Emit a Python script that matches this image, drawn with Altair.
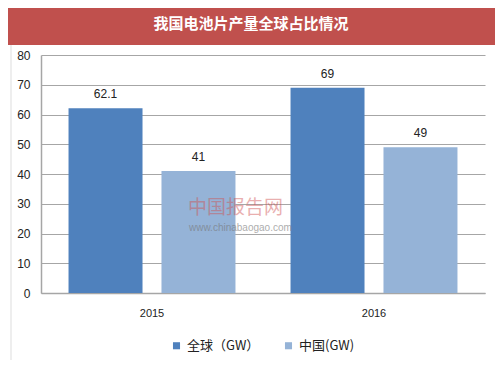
import altair as alt
import pandas as pd

years = ["2015", "2016"]
series = ["全球（GW）", "中国(GW)"]
global_vals = [62.1, 69]
china_vals = [41, 49]
colors = ["#4F81BD", "#95B3D7"]
y_ticks = [0, 10, 20, 30, 40, 50, 60, 70, 80]
title_text = "我国电池片产量全球占比情况"
wm_main = "中国报告网"
wm_url = "www.chinabaogao.com"

rows = []
for i, y in enumerate(years):
    rows.append({"year": y, "series": series[0], "value": global_vals[i], "label": f"{global_vals[i]:g}"})
    rows.append({"year": y, "series": series[1], "value": china_vals[i], "label": f"{china_vals[i]:g}"})
df = pd.DataFrame(rows)
one = pd.DataFrame([{"t": title_text, "w": wm_main, "u": wm_url}])

xenc = alt.X("year:N", sort=years, title=None,
             scale=alt.Scale(paddingInner=0.248, paddingOuter=0.124),
             axis=alt.Axis(labelAngle=0, ticks=False, domainColor="#A6A6A6", domainWidth=1.5,
                           labelFont="Liberation Sans", labelFontSize=11, labelColor="#222",
                           labelPadding=14))
xoff = alt.XOffset("series:N", sort=series, scale=alt.Scale(paddingInner=0.204, paddingOuter=0))
yenc = alt.Y("value:Q", title=None,
             scale=alt.Scale(domain=[0, 80]),
             axis=alt.Axis(values=y_ticks, ticks=False, domainColor="#A6A6A6",
                           gridColor="#A6A6A6", gridWidth=1.2, domainWidth=1.5,
                           labelOverlap=False,
                           labelFont="Liberation Sans", labelFontSize=12, labelColor="#222",
                           labelPadding=11))

bars = alt.Chart(df).mark_bar().encode(
    x=xenc, xOffset=xoff, y=yenc,
    color=alt.Color("series:N", sort=series, scale=alt.Scale(domain=series, range=colors),
                    legend=alt.Legend(title=None, orient="none", legendX=129, legendY=284,
                                      direction="horizontal", symbolType="square", symbolSize=50,
                                      symbolStrokeWidth=0, labelFont="Noto Sans CJK SC",
                                      labelFontSize=13, labelColor="#222", columnPadding=22,
                                      labelOffset=4)),
)

labels = alt.Chart(df).mark_text(baseline="bottom", dy=-7, font="Liberation Sans",
                                 fontSize=12, color="#222").encode(
    x=xenc, xOffset=xoff, y=yenc, text="label:N")

side = alt.Chart(one).mark_rule(color="#DDDDDD", strokeWidth=1).encode(
    x=alt.value(-30), y=alt.value(-10), y2=alt.value(305))

banner = alt.Chart(one).mark_rect(color="#C0504D").encode(
    x=alt.value(-33), x2=alt.value(458), y=alt.value(-47), y2=alt.value(-10))

title = alt.Chart(one).mark_text(color="white", font="Noto Sans CJK SC", fontSize=15,
                                 fontWeight="bold", align="center", baseline="middle").encode(
    x=alt.value(210), y=alt.value(-31), text="t:N")

wm1 = alt.Chart(one).mark_text(color="#D05050", opacity=0.45, font="Noto Sans CJK SC",
                               fontSize=19, align="left", baseline="middle").encode(
    x=alt.value(147), y=alt.value(153), text="w:N")
wm2 = alt.Chart(one).mark_text(color="#777777", opacity=0.6, font="Liberation Sans",
                               fontSize=10, align="left", baseline="middle").encode(
    x=alt.value(148), y=alt.value(173), text="u:N")

chart = alt.layer(bars, labels, side, banner, title, wm1, wm2).properties(
    width=444, height=238,
    autosize=alt.AutoSizeParams(type="none"),
    padding={"left": 33, "top": 47, "right": 10, "bottom": 77},
).configure_view(stroke=None)

chart.save("out.html", embed_options={"renderer": "svg", "actions": False})
